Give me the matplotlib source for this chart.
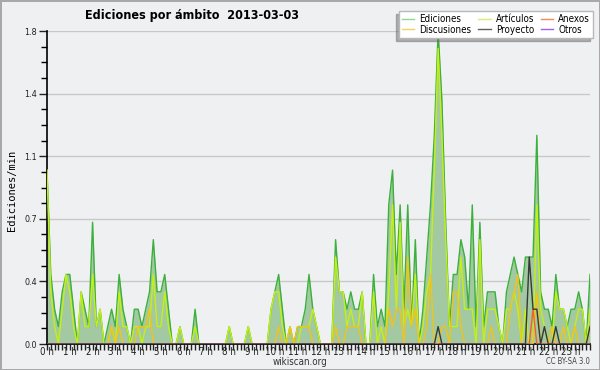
import numpy as np
import matplotlib
matplotlib.use('Agg')
import matplotlib.pyplot as plt
from matplotlib.lines import Line2D
from matplotlib.ticker import MultipleLocator

plt.rcParams['font.family'] = ['DejaVu Sans']
plt.rcParams['font.stretch'] = 'condensed'

# edits per 10-minute slot, one row per hour (0 h .. 23 h)
ediciones = [
    10, 4, 2, 1, 3, 4,
    4, 2, 0, 3, 2, 1,
    7, 1, 2, 0, 1, 2,
    1, 4, 2, 1, 0, 2,
    2, 1, 2, 3, 6, 3,
    3, 4, 2, 0, 0, 1,
    0, 0, 0, 2, 0, 0,
    0, 0, 0, 0, 0, 0,
    1, 0, 0, 0, 0, 1,
    0, 0, 0, 0, 0, 2,
    3, 4, 2, 0, 1, 0,
    1, 1, 2, 4, 2, 1,
    0, 0, 0, 0, 6, 3,
    3, 2, 3, 2, 2, 3,
    0, 0, 4, 1, 2, 1,
    8, 10, 4, 8, 2, 8,
    1, 6, 0, 2, 5, 8,
    12, 18, 14, 7, 1, 4,
    4, 6, 5, 2, 8, 1,
    7, 1, 3, 3, 3, 1,
    0, 3, 4, 5, 4, 3,
    5, 5, 5, 12, 3, 2,
    2, 1, 4, 2, 2, 1,
    2, 2, 3, 2, 0, 4,
]
articulos = [
    10, 3, 1, 0, 2, 4,
    3, 1, 0, 3, 1, 1,
    4, 1, 2, 0, 0, 1,
    0, 3, 1, 1, 0, 1,
    1, 0, 1, 1, 4, 1,
    1, 3, 1, 0, 0, 1,
    0, 0, 0, 1, 0, 0,
    0, 0, 0, 0, 0, 0,
    1, 0, 0, 0, 0, 1,
    0, 0, 0, 0, 0, 2,
    3, 3, 1, 0, 1, 0,
    0, 1, 1, 1, 2, 1,
    0, 0, 0, 0, 5, 3,
    3, 1, 2, 1, 1, 3,
    0, 0, 3, 0, 1, 0,
    3, 8, 2, 7, 1, 2,
    1, 4, 0, 1, 3, 4,
    10, 17, 12, 6, 1, 1,
    1, 5, 2, 2, 2, 0,
    6, 0, 2, 2, 2, 1,
    0, 2, 2, 3, 2, 0,
    2, 0, 0, 8, 2, 1,
    0, 0, 3, 2, 2, 1,
    0, 1, 2, 2, 0, 2,
]
discusiones = [
    0, 0, 0, 0, 0, 0,
    0, 0, 0, 0, 0, 0,
    0, 0, 0, 0, 0, 1,
    0, 1, 0, 0, 0, 0,
    1, 1, 1, 2, 0, 0,
    0, 0, 0, 0, 0, 0,
    0, 0, 0, 0, 0, 0,
    0, 0, 0, 0, 0, 0,
    0, 0, 0, 0, 0, 0,
    0, 0, 0, 0, 0, 0,
    0, 1, 0, 0, 1, 0,
    1, 1, 1, 1, 0, 0,
    0, 0, 0, 0, 1, 0,
    0, 1, 1, 1, 1, 0,
    0, 0, 0, 0, 0, 0,
    2, 1, 2, 2, 0, 5,
    1, 2, 0, 0, 1, 4,
    0, 0, 1, 1, 0, 3,
    3, 1, 0, 0, 0, 0,
    0, 0, 0, 1, 0, 0,
    0, 0, 2, 3, 4, 0,
    0, 0, 0, 3, 0, 0,
    0, 1, 0, 0, 1, 0,
    0, 1, 0, 0, 0, 1,
]
proyecto = [
    0, 0, 0, 0, 0, 0,  0, 0, 0, 0, 0, 0,  0, 0, 0, 0, 0, 0,
    0, 0, 0, 0, 0, 0,  0, 0, 0, 0, 0, 0,  0, 0, 0, 0, 0, 0,
    0, 0, 0, 0, 0, 0,  0, 0, 0, 0, 0, 0,  0, 0, 0, 0, 0, 0,
    0, 0, 0, 0, 0, 0,  0, 0, 0, 0, 0, 0,  0, 0, 0, 0, 0, 0,
    0, 0, 0, 0, 0, 0,  0, 0, 0, 0, 0, 0,  0, 0, 0, 0, 0, 0,
    0, 0, 0, 0, 0, 0,  0, 0, 0, 0, 0, 0,  0, 1, 0, 0, 0, 0,
    0, 0, 0, 0, 0, 0,  0, 0, 0, 0, 0, 0,  0, 0, 0, 0, 0, 0,
    0, 5, 2, 2, 0, 1,  0, 0, 1, 0, 0, 0,  0, 0, 0, 0, 0, 1,
]
anexos = [
    0, 0, 0, 0, 0, 0,  0, 0, 0, 0, 0, 0,  0, 0, 0, 0, 0, 0,
    0, 0, 0, 0, 0, 0,  0, 0, 0, 0, 0, 0,  0, 0, 0, 0, 0, 0,
    0, 0, 0, 0, 0, 0,  0, 0, 0, 0, 0, 0,  0, 0, 0, 0, 0, 0,
    0, 0, 0, 0, 0, 0,  0, 0, 0, 0, 0, 0,  0, 0, 0, 0, 0, 0,
    0, 0, 0, 0, 0, 0,  0, 0, 0, 0, 0, 0,  0, 0, 0, 0, 0, 0,
    0, 0, 0, 0, 0, 0,  0, 0, 0, 0, 0, 0,  0, 0, 0, 0, 0, 0,
    0, 0, 0, 0, 0, 0,  0, 0, 0, 0, 0, 0,  0, 0, 0, 0, 0, 0,
    0, 0, 2, 0, 0, 0,  0, 0, 0, 0, 0, 0,  0, 0, 0, 0, 0, 0,
]
otros = [
    0, 0, 0, 0, 0, 0,  0, 0, 0, 0, 0, 0,  0, 0, 0, 0, 0, 0,
    0, 0, 0, 0, 0, 0,  0, 0, 0, 0, 0, 0,  0, 0, 0, 0, 0, 0,
    0, 0, 0, 0, 0, 0,  0, 0, 0, 0, 0, 0,  0, 0, 0, 0, 0, 0,
    0, 0, 0, 0, 0, 0,  0, 0, 0, 0, 0, 0,  0, 0, 0, 0, 0, 0,
    0, 0, 0, 0, 0, 0,  0, 0, 0, 0, 0, 0,  0, 0, 0, 0, 0, 0,
    0, 0, 0, 0, 0, 0,  0, 0, 0, 0, 0, 0,  0, 0, 0, 0, 0, 0,
    0, 0, 0, 0, 0, 0,  0, 0, 0, 0, 0, 0,  0, 0, 0, 0, 0, 0,
    0, 0, 0, 0, 0, 0,  0, 0, 0, 0, 0, 0,  0, 0, 0, 0, 0, 0,
]
hour_labels = ['%d h' % h for h in range(24)]

x = np.arange(len(ediciones)) / 6.0   # hours
per_min = lambda s: np.array(s) / 10.0

bg = '#eff0f1'
fig = plt.figure(figsize=(6, 3.7), dpi=100, facecolor=bg,
                 edgecolor='#a8a8a8', linewidth=1)
ax = fig.add_axes([47/600, 1 - 344/370, 543/600, 313/370])
ax.set_facecolor(bg)

ax.fill_between(x, 0, per_min(ediciones), color='#a2c9a2', lw=0, zorder=2)
series = [
    (ediciones, '#3cb03c', 'Ediciones', '#8fd88f'),
    (articulos, '#c4f014', 'Artículos', '#d4f070'),
    (discusiones, '#f0c418', 'Discusiones', '#f4d060'),
    (anexos, '#f06030', 'Anexos', '#f08a60'),
    (proyecto, '#383838', 'Proyecto', '#606060'),
    (otros, '#9040e0', 'Otros', '#a060f0'),
]
handles = {}
for vals, col, name, lcol in series:
    ax.plot(x, per_min(vals), color=col, lw=1, zorder=3)
    handles[name] = Line2D([], [], color=lcol, lw=1)

ax.set_xlim(0, x[-1])
ax.set_ylim(0, 1.8)
yt = np.arange(0, 1.81, 0.36)
ax.set_yticks(yt)
ax.set_yticklabels(['%.1f' % v for v in yt])
ax.yaxis.set_minor_locator(MultipleLocator(0.09))
ax.set_xticks(np.arange(24))
ax.set_xticklabels(hour_labels)
ax.xaxis.set_minor_locator(MultipleLocator(1/6))
ax.yaxis.grid(True, color='#c8c8c8', lw=1)
ax.set_axisbelow(True)
ax.tick_params(axis='y', which='major', length=6, width=1, pad=1, labelsize=6.5, colors='#222222')
ax.tick_params(axis='y', which='minor', length=4, width=1)
ax.tick_params(axis='x', which='both', length=4, width=1, pad=-1.5, labelsize=7, colors='#222222')
for s in ['top', 'right']:
    ax.spines[s].set_visible(False)
for s in ['left', 'bottom']:
    ax.spines[s].set_linewidth(1.2)

fig.text(85/600, 1 - 16/370, 'Ediciones por ámbito  2013-03-03',
         fontsize=9, fontweight='bold', ha='left', va='center')
fig.text(12/600, 1 - 190/370, 'Ediciones/min', rotation=90, family='DejaVu Sans Mono',
         fontsize=7.5, ha='center', va='center')
fig.text(300/600, 1 - 362/370, 'wikiscan.org', fontsize=7, color='#333333',
         ha='center', va='center')
fig.text(590/600, 1 - 362/370, 'CC BY-SA 3.0', fontsize=5.5, color='#444444',
         ha='right', va='center')

order = ['Ediciones', 'Discusiones', 'Artículos', 'Proyecto', 'Anexos', 'Otros']
fig.legend([handles[n] for n in order], order, ncol=3, loc='upper right',
           bbox_to_anchor=(593/600, 1 - 11/370), fontsize=7, frameon=True,
           fancybox=False, edgecolor='#b8b8b8', facecolor='white', framealpha=1,
           shadow={'ox': -2, 'oy': -2, 'color': '#707070'},
           handlelength=1.3, handletextpad=0.5, columnspacing=0.7,
           labelspacing=0.1, borderpad=0.3, borderaxespad=0)

fig.savefig('out.png', dpi=100, facecolor=bg, edgecolor='#a8a8a8')
